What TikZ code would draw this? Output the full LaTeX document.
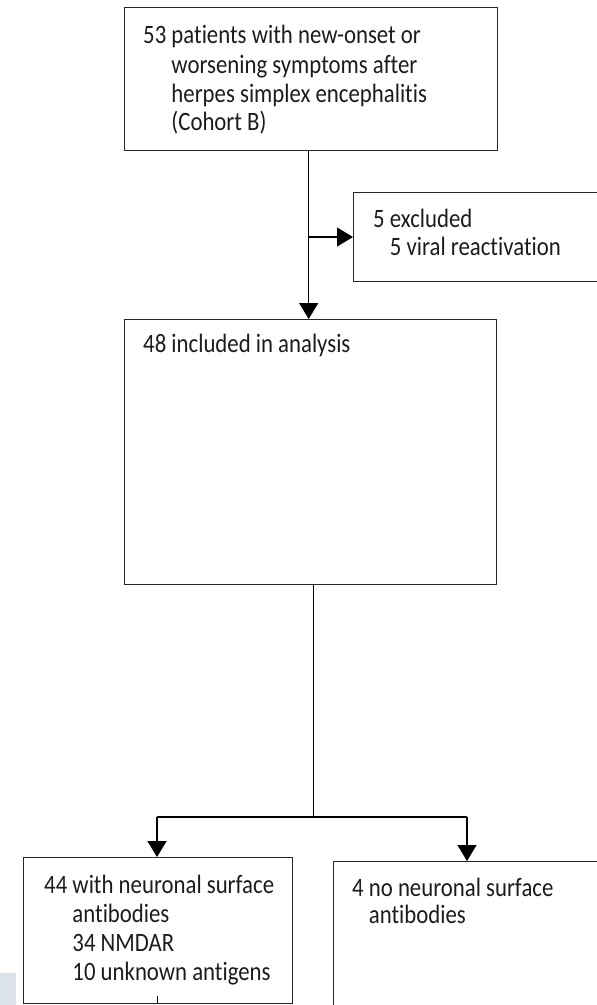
\documentclass[tikz,border=0pt]{standalone}
\usepackage{fontspec}
\setmainfont{Carlito}[FakeStretch=0.86,Ligatures=NoCommon]
\usetikzlibrary{arrows.meta}
\definecolor{txt}{HTML}{1E1B1C}
\definecolor{tab}{HTML}{DCE2EA}
\tikzset{
  box/.style={draw=black!85, line width=1.4pt, rectangle, inner sep=0pt, anchor=north west},
  conn/.style={draw=black, line width=1.3pt},
  arr/.style={conn, -{Triangle[width=19pt,length=16pt]}},
  lbl/.style={anchor=base west, inner sep=0pt, text=txt, font=\fontsize{26.5}{29}\selectfont},
}
\begin{document}
\begin{tikzpicture}[x=1pt,y=-1pt]
\useasboundingbox (0,0) rectangle (597,1005);
\clip (0,0) rectangle (597,1005);
\fill[tab] (0,973) rectangle (16,1005);

\node[box, minimum width=373pt, minimum height=143pt] (top) at (124,7) {};
\node[box, minimum width=280pt, minimum height=89pt] (excl) at (353,192) {};
\node[box, minimum width=372pt, minimum height=265pt] (mid) at (124,319) {};
\node[box, minimum width=269pt, minimum height=146pt] (bl) at (23,857) {};
\node[box, minimum width=300pt, minimum height=180pt] (br) at (333,861) {};

% texts
\node[lbl] (t1) at (143,43) {53 patients with new-onset or};
\node[lbl] (t2) at (143,73) {\hphantom{53 }worsening symptoms after};
\node[lbl] (t3) at (143,102) {\hphantom{53 }herpes simplex encephalitis};
\node[lbl] (t4) at (143,130) {\hphantom{53 }(Cohort B)};

\node[lbl] (e1) at (373,227) {5 excluded};
\node[lbl] (e2) at (373,255) {\hphantom{5 }5 viral reactivation};

\node[lbl] (m1) at (143,352) {48 included in analysis};

\node[lbl] (l1) at (44,893) {44 with neuronal surface};
\node[lbl] (l2) at (44,922) {\hphantom{44 }antibodies};
\node[lbl] (l3) at (44,951) {\hphantom{44 }34 NMDAR};
\node[lbl] (l4) at (44,980) {\hphantom{44 }10 unknown antigens};

\node[lbl] (r1) at (352,896) {4 no neuronal surface};
\node[lbl] (r2) at (352,923) {\hphantom{4 }antibodies};

% connectors
\coordinate (a0) at ([xshift=-2.5pt]top.south);
\draw[arr] (a0) -- (a0 |- mid.north);
\coordinate (j1) at (a0 |- 0,237);
\draw[arr] (j1) -- (j1 -| excl.west);

\coordinate (b0) at ([xshift=3pt]mid.south);
\coordinate (split) at (b0 |- 0,817);
\coordinate (sl) at (157,817);
\coordinate (sr) at (467,817);
\draw[conn] (b0) -- (split);
\draw[conn] (sl) -- (sr);
\draw[arr] (sl) -- (sl |- bl.north);
\draw[arr] (sr) -- (sr |- br.north);
\draw[conn] ([xshift=-0.5pt]bl.south) -- ([xshift=-0.5pt,yshift=8pt]bl.south);
\end{tikzpicture}
\end{document}
